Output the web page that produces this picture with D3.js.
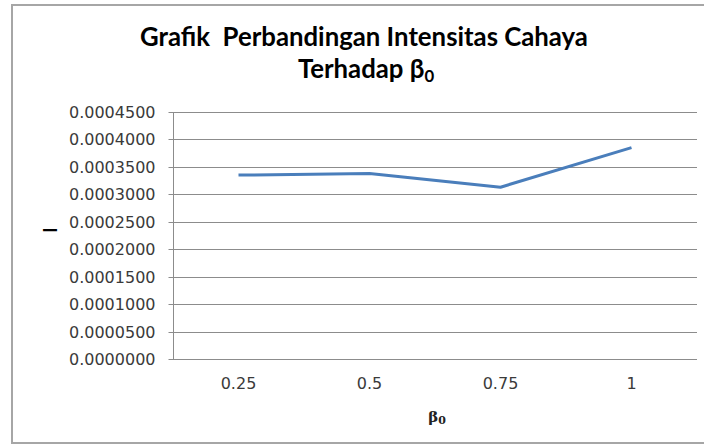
<!DOCTYPE html>
<html><head><meta charset="utf-8">
<script src="https://cdn.jsdelivr.net/npm/d3@7"></script>
<style>html,body{margin:0;padding:0;background:#fff;}svg{display:block;}</style>
</head><body>
<svg id="chart" width="704" height="445"></svg>
<script>
const categories = ["0.25", "0.5", "0.75", "1"];
const intensity = [0.000335, 0.000338, 0.000313, 0.000385];
const yTicks = [0, 0.00005, 0.0001, 0.00015, 0.0002, 0.00025, 0.0003, 0.00035, 0.0004, 0.00045];
const titleLine1 = "Grafik  Perbandingan Intensitas Cahaya";
const titleLine2 = "Terhadap β";
const xTitle = "β";
const yTitle = "I";

(function () {
const svg = d3.select("#chart");
const pl = 173, pr = 697, pt = 112, pb = 359;

svg.append("rect").attr("x", 12).attr("y", 5).attr("width", 720).attr("height", 438)
  .attr("fill", "#fff").attr("stroke", "#a6a6a6").attr("stroke-width", 2);

const x = d3.scaleBand().domain(categories).range([pl, pr]);
const y = d3.scaleLinear().domain([0, 0.00045]).range([pb, pt]);

// gridlines
svg.append("g").selectAll("line").data(yTicks).join("line")
  .attr("x1", pl).attr("x2", pr)
  .attr("y1", d => Math.round(y(d)) + 0.5).attr("y2", d => Math.round(y(d)) + 0.5)
  .attr("stroke", "#8c8c8c").attr("stroke-width", 1);

// y axis
const yAxis = d3.axisLeft(y).tickValues(yTicks).tickSize(5).tickPadding(13)
  .tickFormat(d => d.toFixed(7));
const gy = svg.append("g").attr("transform", `translate(${pl + 0.5},0)`).call(yAxis);
gy.select(".domain").attr("stroke", "#8c8c8c").attr("d", `M0,${pt}V${pb}`);
gy.selectAll(".tick line").attr("stroke", "#8c8c8c");
gy.selectAll(".tick text").attr("font-family", "DejaVu Sans").attr("font-size", 16)
  .attr("fill", "#3a3a3a");
gy.selectAll(".tick").attr("transform", d => `translate(0,${Math.round(y(d)) + 0.5})`);

// x axis
const xAxis = d3.axisBottom(x).tickSize(0).tickPadding(18);
const gx = svg.append("g").attr("transform", `translate(0,${Math.round(pb) + 0.5})`).call(xAxis);
gx.select(".domain").attr("stroke", "#8c8c8c").attr("d", `M${pl},0H${pr}`);
gx.selectAll(".tick text").attr("font-family", "DejaVu Sans").attr("font-size", 16)
  .attr("fill", "#3a3a3a");

// line
const line = d3.line().x((d, i) => x(categories[i]) + x.bandwidth() / 2).y(d => y(d));
svg.append("path").datum(intensity).attr("d", line)
  .attr("fill", "none").attr("stroke", "#4a7ebb").attr("stroke-width", 3)
  .attr("stroke-linejoin", "round");

// title
const tfont = "Lato";
const t1 = svg.append("text").attr("x", 364).attr("y", 46).attr("text-anchor", "middle")
  .attr("font-family", tfont).attr("font-weight", "bold").attr("font-size", 22)
  .attr("fill", "#000").style("white-space", "pre").text(titleLine1);
const w = t1.node().getComputedTextLength();
const fs = 22 * 448 / w;
t1.attr("font-size", fs);
const t2 = svg.append("text").attr("x", 366).attr("y", 78).attr("text-anchor", "middle")
  .attr("font-family", tfont).attr("font-weight", "bold").attr("font-size", fs).attr("fill", "#000");
t2.append("tspan").text(titleLine2);
t2.append("tspan").attr("font-size", fs * 0.65).attr("dy", 4).text("0");

// x title
const xt = svg.append("text").attr("x", 437).attr("y", 422).attr("text-anchor", "middle")
  .attr("font-family", "DejaVu Serif").attr("font-weight", "bold").attr("font-size", 15).attr("fill", "#222");
xt.append("tspan").text(xTitle);
xt.append("tspan").attr("font-size", 11).attr("dy", 2).text("0");

// y title
svg.append("text").attr("transform", "translate(57,230) rotate(-90)").attr("text-anchor", "middle")
  .attr("font-family", tfont).attr("font-weight", "bold").attr("font-size", 18).attr("fill", "#000")
  .text(yTitle);
})();
</script>
</body></html>
